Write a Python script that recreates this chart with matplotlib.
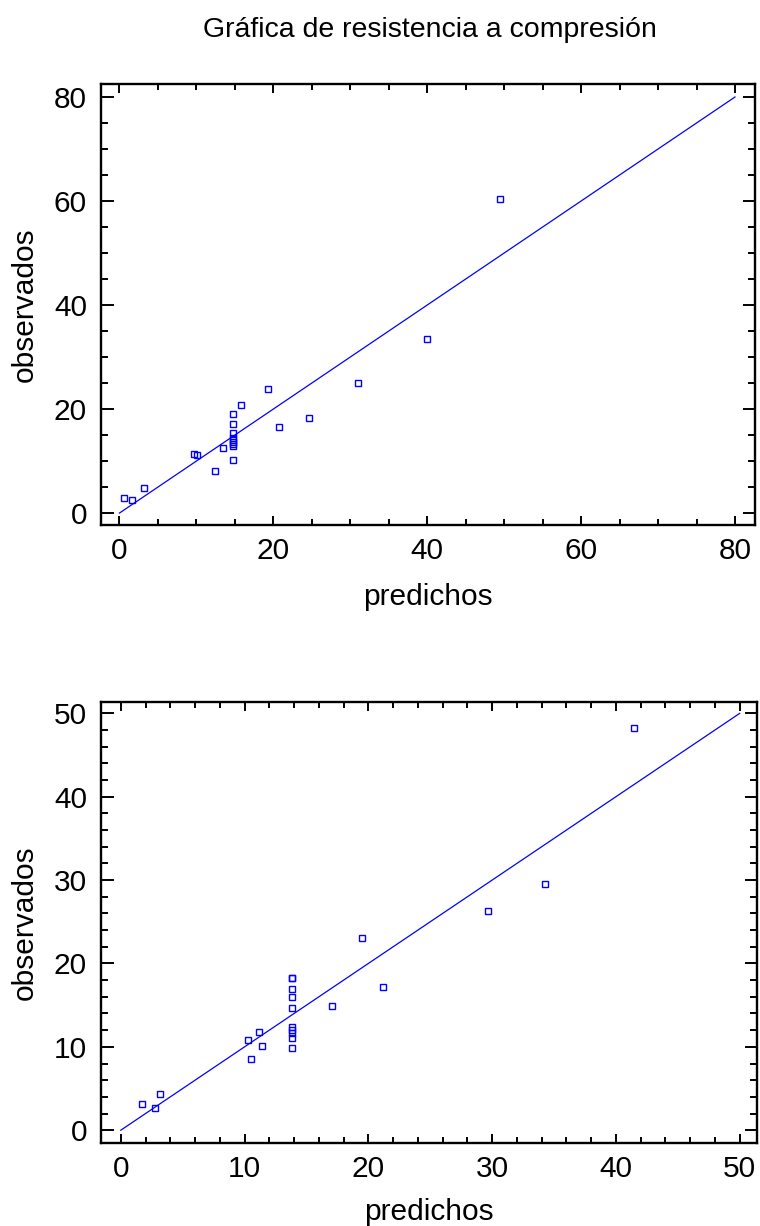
import matplotlib
matplotlib.use("Agg")
import matplotlib.pyplot as plt
from matplotlib.ticker import MultipleLocator

plt.rcParams['font.family'] = ['Liberation Sans', 'DejaVu Sans']

# ---- data: top chart ----
pred1 = [0.65, 1.6, 3.2, 9.7, 10.1, 12.4, 13.4,
         14.7, 14.7, 14.7, 14.7, 14.7, 14.7, 14.7, 14.7, 14.7,
         15.8, 19.3, 20.7, 24.6, 31.0, 40.0, 49.5]
obs1 = [2.9, 2.5, 4.9, 11.4, 11.2, 8.1, 12.6,
        19.0, 17.2, 15.4, 14.4, 14.1, 13.7, 13.3, 12.8, 10.2,
        20.8, 23.9, 16.6, 18.3, 25.1, 33.4, 60.3]
line1 = [0, 80]
ticks1 = [0, 20, 40, 60, 80]

# ---- data: bottom chart ----
pred2 = [1.7, 2.8, 3.15, 10.3, 10.5, 11.2, 11.4,
         13.8, 13.85, 13.8, 13.8, 13.8, 13.8, 13.8, 13.8, 13.8, 13.8,
         17.1, 19.5, 21.2, 29.7, 34.3, 41.5]
obs2 = [3.1, 2.7, 4.4, 10.8, 8.6, 11.8, 10.1,
        18.2, 18.3, 16.9, 16.0, 14.7, 12.4, 12.0, 11.7, 11.1, 9.8,
        14.9, 23.1, 17.2, 26.3, 29.5, 48.2]
line2 = [0, 50]
ticks2 = [0, 10, 20, 30, 40, 50]

title = "Gráfica de resistencia a compresión"
xlabel = "predichos"
ylabel = "observados"

W, H = 760, 1226
fig = plt.figure(figsize=(W / 100, H / 100), dpi=100)

def px_axes(l, r, t, b):
    return [l / W, 1 - b / H, (r - l) / W, (b - t) / H]

blue = '#0000ff'
FS = 21.5

def style(ax, xlim, ylim, major, minor, pred, obs, line, ticks, xlab_y):
    ax.plot(line, line, color=blue, lw=0.9, zorder=2)
    ax.plot(pred, obs, ls='none', marker='s', ms=4.4, mfc='none',
            mec=blue, mew=1.0, zorder=3)
    ax.set_xlim(*xlim)
    ax.set_ylim(*ylim)
    ax.set_xticks(ticks)
    ax.set_yticks(ticks)
    ax.xaxis.set_minor_locator(MultipleLocator(minor))
    ax.yaxis.set_minor_locator(MultipleLocator(minor))
    for s in ax.spines.values():
        s.set_linewidth(1.7)
    ax.tick_params(axis='both', which='both', direction='in', top=True,
                   right=True, width=1.4, labelsize=FS, colors='black')
    ax.tick_params(axis='x', which='major', length=6.5, pad=9)
    ax.tick_params(axis='x', which='minor', length=4)
    ax.tick_params(axis='y', which='major', length=9, pad=10)
    ax.tick_params(axis='y', which='minor', length=5)
    ax.set_xlabel(xlabel, fontsize=FS)
    ax.set_ylabel(ylabel, fontsize=FS)
    ax.xaxis.label.set_va('center')
    ax.yaxis.label.set_va('center')
    ax.xaxis.set_label_coords(0.5, xlab_y)
    ax.yaxis.set_label_coords(-0.116, 0.5)

ax1 = fig.add_axes(px_axes(101, 755, 84, 524.5))
style(ax1, (-2.4, 82.6), (-2.2, 82.5), 20, 5, pred1, obs1, line1, ticks1, -0.165)

ax2 = fig.add_axes(px_axes(101, 757, 701.7, 1142.7))
style(ax2, (-1.6, 51.4), (-1.5, 51.4), 10, 2, pred2, obs2, line2, ticks2, -0.157)

fig.text(430 / W, 1 - 30 / H, title, ha='center', va='center', fontsize=20.5)

fig.savefig("out.png", dpi=100, facecolor='white')
